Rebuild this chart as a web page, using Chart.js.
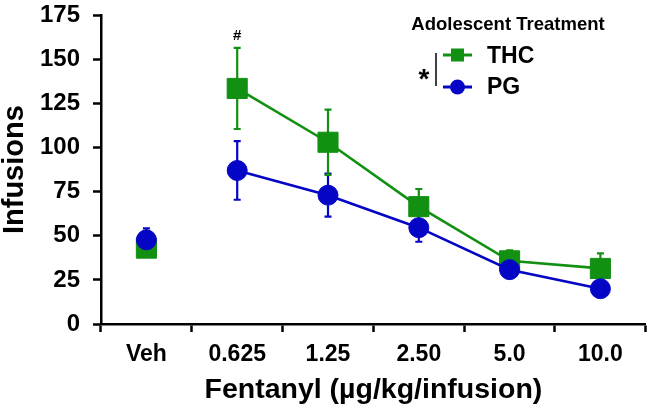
<!DOCTYPE html>
<html lang="en">
<head>
    <meta charset="UTF-8">
    <title>Fentanyl infusions by adolescent treatment</title>
    <script src="https://cdn.jsdelivr.net/npm/chart.js"></script>
    <style>
        body { margin: 0; background: #fff; }
        #chartBox { width: 661px; height: 412px; position: relative; }
    </style>
</head>
<body>
    <div id="chartBox">
        <canvas id="infusionChart"></canvas>
    </div>

    <script>
        // --- data ---
        const doses = ['Veh', '0.625', '1.25', '2.50', '5.0', '10.0'];
        const thcMean = [43, 133.5, 103, 66.5, 35.8, 31.5];
        const thcSem  = [4, 23, 18.5, 10, 6, 8.5];
        const pgMean  = [47.7, 87, 73, 54.6, 30.8, 20];
        const pgSem   = [6.5, 16.6, 12.2, 8, 3, 3];
        const yTicks  = { min: 0, max: 175, step: 25 };
        const sigMarks = [{ series: 'THC', index: 1, text: '#' }];

        const GREEN = '#129012';
        const BLUE = '#0505c6';
        const FONT = "'Liberation Sans', Arial, sans-serif";

        // Veh point is not joined to the dose-response line
        const skipVeh = { borderColor: ctx => ctx.p0DataIndex === 0 ? 'rgba(0,0,0,0)' : undefined };

        // error bars drawn under the markers
        const errorBars = {
            id: 'errorBars',
            beforeDatasetsDraw(chart) {
                const ctx = chart.ctx;
                const y = chart.scales.y;
                chart.data.datasets.forEach((ds, di) => {
                    const meta = chart.getDatasetMeta(di);
                    ctx.save();
                    ctx.strokeStyle = ds.borderColor;
                    ctx.lineWidth = 2.2;
                    meta.data.forEach((pt, i) => {
                        const top = y.getPixelForValue(ds.data[i] + ds.sem[i]);
                        const bot = y.getPixelForValue(ds.data[i] - ds.sem[i]);
                        ctx.beginPath();
                        ctx.moveTo(pt.x, top); ctx.lineTo(pt.x, bot);
                        ctx.moveTo(pt.x - 3.5, top); ctx.lineTo(pt.x + 3.5, top);
                        ctx.moveTo(pt.x - 3.5, bot); ctx.lineTo(pt.x + 3.5, bot);
                        ctx.stroke();
                    });
                    ctx.restore();
                });
            }
        };

        // "#" marks and the legend with the "*" bracket
        const annotations = {
            id: 'annotations',
            afterDraw(chart) {
                const ctx = chart.ctx;
                const y = chart.scales.y;
                ctx.save();
                ctx.fillStyle = '#000';

                sigMarks.forEach(m => {
                    const di = chart.data.datasets.findIndex(d => d.label === m.series);
                    const ds = chart.data.datasets[di];
                    const pt = chart.getDatasetMeta(di).data[m.index];
                    ctx.font = 'bold 15px ' + FONT;
                    ctx.textAlign = 'center';
                    ctx.textBaseline = 'alphabetic';
                    ctx.fillText(m.text, pt.x, y.getPixelForValue(ds.data[m.index] + ds.sem[m.index]) - 8);
                });

                // legend
                ctx.textAlign = 'center';
                ctx.font = 'bold 18.5px ' + FONT;
                ctx.fillText('Adolescent Treatment', 508, 30);

                const rows = [
                    { label: 'THC', color: GREEN, style: 'rect', y: 55, base: 63 },
                    { label: 'PG', color: BLUE, style: 'circle', y: 87, base: 94 }
                ];
                rows.forEach(r => {
                    ctx.strokeStyle = r.color;
                    ctx.fillStyle = r.color;
                    ctx.lineWidth = 3;
                    ctx.beginPath();
                    ctx.moveTo(443, r.y); ctx.lineTo(472, r.y);
                    ctx.stroke();
                    ctx.beginPath();
                    if (r.style === 'rect') ctx.rect(451, r.y - 6.5, 13, 13);
                    else ctx.arc(457.5, r.y, 7.5, 0, Math.PI * 2);
                    ctx.fill();
                    ctx.fillStyle = '#000';
                    ctx.textAlign = 'left';
                    ctx.font = 'bold 23px ' + FONT;
                    ctx.fillText(r.label, 487, r.base);
                });

                ctx.strokeStyle = '#000';
                ctx.lineWidth = 1.5;
                ctx.beginPath();
                ctx.moveTo(436, 53); ctx.lineTo(436, 86);
                ctx.stroke();
                ctx.font = 'bold 28px ' + FONT;
                ctx.textAlign = 'center';
                ctx.fillText('*', 424, 88);
                ctx.restore();
            }
        };

        const chart = new Chart(document.getElementById('infusionChart'), {
            type: 'line',
            data: {
                labels: doses,
                datasets: [
                    {
                        label: 'PG',
                        data: pgMean,
                        sem: pgSem,
                        borderColor: BLUE,
                        backgroundColor: BLUE,
                        borderWidth: 2.6,
                        pointStyle: 'circle',
                        pointRadius: 10,
                        pointBorderWidth: 1,
                        segment: skipVeh
                    },
                    {
                        label: 'THC',
                        data: thcMean,
                        sem: thcSem,
                        borderColor: GREEN,
                        backgroundColor: GREEN,
                        borderWidth: 2.6,
                        pointStyle: 'rect',
                        pointRadius: 14.2,
                        pointBorderWidth: 1,
                        segment: skipVeh
                    }
                ]
            },
            options: {
                responsive: true,
                maintainAspectRatio: false,
                animation: false,
                events: [],
                layout: { padding: { top: 13, right: 4, left: 0, bottom: 0 } },
                plugins: {
                    legend: { display: false },
                    tooltip: { enabled: false }
                },
                scales: {
                    x: {
                        offset: true,
                        grid: {
                            offset: true,
                            drawOnChartArea: false,
                            tickLength: 8,
                            tickWidth: 2.5,
                            tickColor: '#000'
                        },
                        border: { color: '#000', width: 2.5 },
                        ticks: {
                            color: '#000',
                            padding: 11,
                            font: { family: FONT, size: 23, weight: 'bold', lineHeight: 1 }
                        },
                        title: {
                            display: true,
                            text: 'Fentanyl (µg/kg/infusion)',
                            color: '#000',
                            padding: { top: 0, bottom: 8 },
                            font: { family: FONT, size: 28.5, weight: 'bold', lineHeight: 1 }
                        },
                        afterFit(scale) {
                            scale.height = 88;
                            scale.paddingLeft = 0;
                            scale.paddingRight = 0;
                        }
                    },
                    y: {
                        min: yTicks.min,
                        max: yTicks.max,
                        grid: {
                            drawOnChartArea: false,
                            tickLength: 8,
                            tickWidth: 2.5,
                            tickColor: '#000'
                        },
                        border: { color: '#000', width: 2.5 },
                        ticks: {
                            stepSize: yTicks.step,
                            color: '#000',
                            padding: 13,
                            font: { family: FONT, size: 24, weight: 'bold', lineHeight: 1 }
                        },
                        title: {
                            display: true,
                            text: 'Infusions',
                            color: '#000',
                            padding: 0,
                            font: { family: FONT, size: 29, weight: 'bold', lineHeight: 1 }
                        },
                        afterFit(scale) {
                            scale.width = 101;
                            scale.paddingTop = 0;
                            scale.paddingBottom = 0;
                        }
                    }
                }
            },
            plugins: [errorBars, annotations]
        });
    </script>
</body>
</html>
